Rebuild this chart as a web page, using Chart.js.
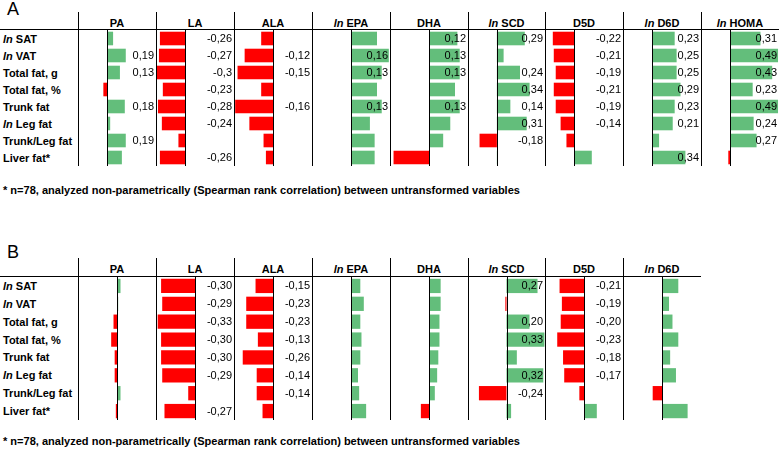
<!DOCTYPE html>
<html><head><meta charset="utf-8">
<script src="https://cdn.jsdelivr.net/npm/chart.js@4.4.0/dist/chart.umd.min.js"></script>
<style>
html,body{margin:0;padding:0;background:#fff;}
#root{position:relative;width:779px;height:451px;overflow:hidden;font-family:"Liberation Sans",Arial,sans-serif;color:#000;}
.abs{position:absolute;white-space:nowrap;}
canvas{position:absolute;}
</style></head><body>
<div id="root"></div>
<script>
// ---------- DATA ----------
const categories = ["ln SAT","ln VAT","Total fat, g","Total fat, %","Trunk fat","ln Leg fat","Trunk/Leg fat","Liver fat*"];
const columnsA = ["PA","LA","ALA","ln EPA","DHA","ln SCD","D5D","ln D6D","ln HOMA"];
const columnsB = ["PA","LA","ALA","ln EPA","DHA","ln SCD","D5D","ln D6D"];
const footnote = "* n=78, analyzed non-parametrically (Spearman rank correlation) between untransformed variables";

// Panel A values
const A_PA   = [0.06, 0.19, 0.13, -0.04, 0.18, 0.03, 0.19, 0.15];
const A_LA   = [-0.26, -0.27, -0.30, -0.23, -0.28, -0.24, -0.07, -0.26];
const A_ALA  = [-0.05, -0.12, -0.15, -0.05, -0.16, -0.10, -0.04, -0.03];
const A_EPA  = [0.11, 0.16, 0.13, 0.11, 0.13, 0.08, 0.10, 0.10];
const A_DHA  = [0.12, 0.13, 0.13, 0.11, 0.13, 0.09, 0.06, -0.15];
const A_SCD  = [0.29, 0.07, 0.24, 0.34, 0.14, 0.31, -0.18, 0.01];
const A_D5D  = [-0.22, -0.21, -0.19, -0.21, -0.19, -0.14, -0.08, 0.18];
const A_D6D  = [0.23, 0.25, 0.25, 0.29, 0.23, 0.21, 0.07, 0.34];
const A_HOMA = [0.31, 0.49, 0.43, 0.23, 0.49, 0.24, 0.27, -0.02];
// Panel A value labels (null = not shown)
const A_PA_lab   = [null, "0,19", "0,13", null, "0,18", null, "0,19", null];
const A_LA_lab   = ["-0,26", "-0,27", "-0,3", "-0,23", "-0,28", "-0,24", null, "-0,26"];
const A_ALA_lab  = [null, "-0,12", "-0,15", null, "-0,16", null, null, null];
const A_EPA_lab  = [null, "0,16", "0,13", null, "0,13", null, null, null];
const A_DHA_lab  = ["0,12", "0,13", "0,13", null, "0,13", null, null, null];
const A_SCD_lab  = ["0,29", null, "0,24", "0,34", "0,14", "0,31", "-0,18", null];
const A_D5D_lab  = ["-0,22", "-0,21", "-0,19", "-0,21", "-0,19", "-0,14", null, null];
const A_D6D_lab  = ["0,23", "0,25", "0,25", "0,29", "0,23", "0,21", null, "0,34"];
const A_HOMA_lab = ["0,31", "0,49", "0,43", "0,23", "0,49", "0,24", "0,27", null];

// Panel B values
const B_PA  = [0.03, 0.01, -0.03, -0.05, -0.02, -0.02, 0.03, -0.01];
const B_LA  = [-0.30, -0.29, -0.33, -0.30, -0.30, -0.29, -0.06, -0.27];
const B_ALA = [-0.15, -0.23, -0.23, -0.13, -0.26, -0.14, -0.14, -0.09];
const B_EPA = [0.08, 0.11, 0.08, 0.09, 0.08, 0.06, 0.07, 0.13];
const B_DHA = [0.10, 0.10, 0.09, 0.09, 0.08, 0.07, 0.05, -0.07];
const B_SCD = [0.27, -0.01, 0.20, 0.33, 0.09, 0.32, -0.24, 0.04];
const B_D5D = [-0.21, -0.19, -0.20, -0.23, -0.18, -0.17, -0.04, 0.11];
const B_D6D = [0.14, 0.06, 0.09, 0.14, 0.07, 0.12, -0.08, 0.22];
// Panel B value labels
const B_PA_lab  = [null, null, null, null, null, null, null, null];
const B_LA_lab  = ["-0,30", "-0,29", "-0,33", "-0,30", "-0,30", "-0,29", null, "-0,27"];
const B_ALA_lab = ["-0,15", "-0,23", "-0,23", "-0,13", "-0,26", "-0,14", "-0,14", null];
const B_EPA_lab = [null, null, null, null, null, null, null, null];
const B_DHA_lab = [null, null, null, null, null, null, null, null];
const B_SCD_lab = ["0,27", null, "0,20", "0,33", null, "0,32", "-0,24", null];
const B_D5D_lab = ["-0,21", "-0,19", "-0,20", "-0,23", "-0,18", "-0,17", null, null];
const B_D6D_lab = [null, null, null, null, null, null, null, null];

// ---------- AXIS RANGES (per column) ----------
const rangeWide = [-0.3, 0.5], rangeNarrow = [-0.165, 0.165];
const rangesA = [rangeWide, rangeWide, rangeNarrow, rangeNarrow, rangeNarrow, rangeWide, rangeWide, rangeWide, rangeWide];
const rB = [-0.335, 0.335];
const rangesB = [rB, [-0.345, 0.345], rB, rB, rB, rB, rB, rB];

// ---------- LAYOUT ----------
const POS = '#63BE7B', NEG = '#FF0000';
const X0 = 78, CW = 77.9;
const edge = i => Math.round(X0 + i * CW);
const root = document.getElementById('root');
function addDiv(style, html) {
  const d = document.createElement('div');
  d.className = 'abs';
  Object.assign(d.style, style);
  if (html !== undefined) d.innerHTML = html;
  root.appendChild(d);
  return d;
}
function fmt(t) { return t.startsWith('ln ') ? '<i>ln</i> ' + t.slice(3) : t; }

function miniChart(left, top, w, h, values, labels, range) {
  const cv = document.createElement('canvas');
  cv.width = w; cv.height = h;
  cv.style.left = left + 'px'; cv.style.top = top + 'px';
  cv.style.width = w + 'px'; cv.style.height = h + 'px';
  root.appendChild(cv);
  const overlay = {
    id: 'overlay',
    afterDatasetsDraw(chart) {
      const ctx = chart.ctx, xs = chart.scales.x, ys = chart.scales.y;
      const zx = Math.round(xs.getPixelForValue(0)) + 0.5;
      ctx.save();
      ctx.strokeStyle = '#000'; ctx.lineWidth = 1;
      ctx.beginPath(); ctx.moveTo(zx, 0); ctx.lineTo(zx, chart.height); ctx.stroke();
      ctx.font = '11px "Liberation Sans", Arial, sans-serif';
      ctx.fillStyle = '#000'; ctx.textAlign = 'right'; ctx.textBaseline = 'middle';
      labels.forEach((lab, i) => {
        if (lab) ctx.fillText(lab, chart.chartArea.right - 2, ys.getPixelForValue(i) + 0.5);
      });
      ctx.restore();
    }
  };
  new Chart(cv, {
    type: 'bar',
    data: { labels: categories, datasets: [{
      data: values,
      backgroundColor: values.map(v => v < 0 ? NEG : POS),
      borderWidth: 0, barPercentage: 0.8, categoryPercentage: 1
    }]},
    options: {
      indexAxis: 'y', responsive: false, animation: false, devicePixelRatio: 1,
      layout: { padding: 0 },
      plugins: { legend: { display: false }, tooltip: { enabled: false } },
      scales: {
        x: { display: false, min: range[0], max: range[1] },
        y: { display: false }
      }
    },
    plugins: [overlay]
  });
}

function buildPanel(p) {
  addDiv({ left: '7px', top: p.letterTop + 'px', fontSize: '18px', lineHeight: '18px' }, p.letter);
  const pitch = (p.rowsBot - p.rowsTop) / categories.length;
  p.columns.forEach((c, i) => {
    addDiv({ left: edge(i) + 'px', width: (edge(i + 1) - edge(i)) + 'px', top: (p.headCenter - 6) + 'px',
      textAlign: 'center', fontSize: '11px', lineHeight: '12px', fontWeight: 'bold' }, fmt(c));
  });
  categories.forEach((c, i) => {
    const cy = p.rowsTop + pitch * (i + 0.5);
    addDiv({ left: '3px', top: (cy - 6) + 'px', fontSize: '11px', lineHeight: '12px', fontWeight: 'bold' }, fmt(c));
  });
  p.columns.forEach((c, i) => {
    miniChart(edge(i), p.rowsTop, edge(i + 1) - edge(i), p.rowsBot - p.rowsTop, p.values[i], p.labels[i], p.ranges[i]);
  });
  addDiv({ left: '0px', top: p.hLine + 'px', width: p.hLineW + 'px', height: '1px', background: '#000', zIndex: 3 });
  for (let i = 0; i < p.nV; i++) {
    addDiv({ left: edge(i) + 'px', top: p.vTop + 'px', width: '1px', height: (p.rowsBot - p.vTop) + 'px', background: '#000', zIndex: 3 });
  }
  // footnote, sized to the reference width
  const f = addDiv({ left: '3px', top: '0px', fontSize: '12px', lineHeight: '14px', fontWeight: 'bold',
    fontFamily: '"Liberation Sans Narrow", "Liberation Sans", Arial, sans-serif' });
  f.textContent = footnote;
  const w = f.getBoundingClientRect().width;
  let fs = Math.min(12, 12 * 517 / w);
  f.style.fontSize = fs.toFixed(2) + 'px';
  const w2 = f.getBoundingClientRect().width;
  if (w2 < 517) f.style.letterSpacing = ((517 - w2) / footnote.length).toFixed(3) + 'px';
  f.style.top = (p.footCenter - 7.5) + 'px';
}

buildPanel({
  letter: 'A', letterTop: 0, headCenter: 22.5, vTop: 12, hLine: 29, hLineW: 779,
  rowsTop: 30, rowsBot: 166, nV: 9, footCenter: 190.5,
  columns: columnsA,
  values: [A_PA, A_LA, A_ALA, A_EPA, A_DHA, A_SCD, A_D5D, A_D6D, A_HOMA],
  labels: [A_PA_lab, A_LA_lab, A_ALA_lab, A_EPA_lab, A_DHA_lab, A_SCD_lab, A_D5D_lab, A_D6D_lab, A_HOMA_lab],
  ranges: rangesA
});
buildPanel({
  letter: 'B', letterTop: 243, headCenter: 268.7, vTop: 258, hLine: 276, hLineW: 701,
  rowsTop: 277, rowsBot: 420, nV: 8, footCenter: 441.5,
  columns: columnsB,
  values: [B_PA, B_LA, B_ALA, B_EPA, B_DHA, B_SCD, B_D5D, B_D6D],
  labels: [B_PA_lab, B_LA_lab, B_ALA_lab, B_EPA_lab, B_DHA_lab, B_SCD_lab, B_D5D_lab, B_D6D_lab],
  ranges: rangesB
});
</script>
</body></html>
